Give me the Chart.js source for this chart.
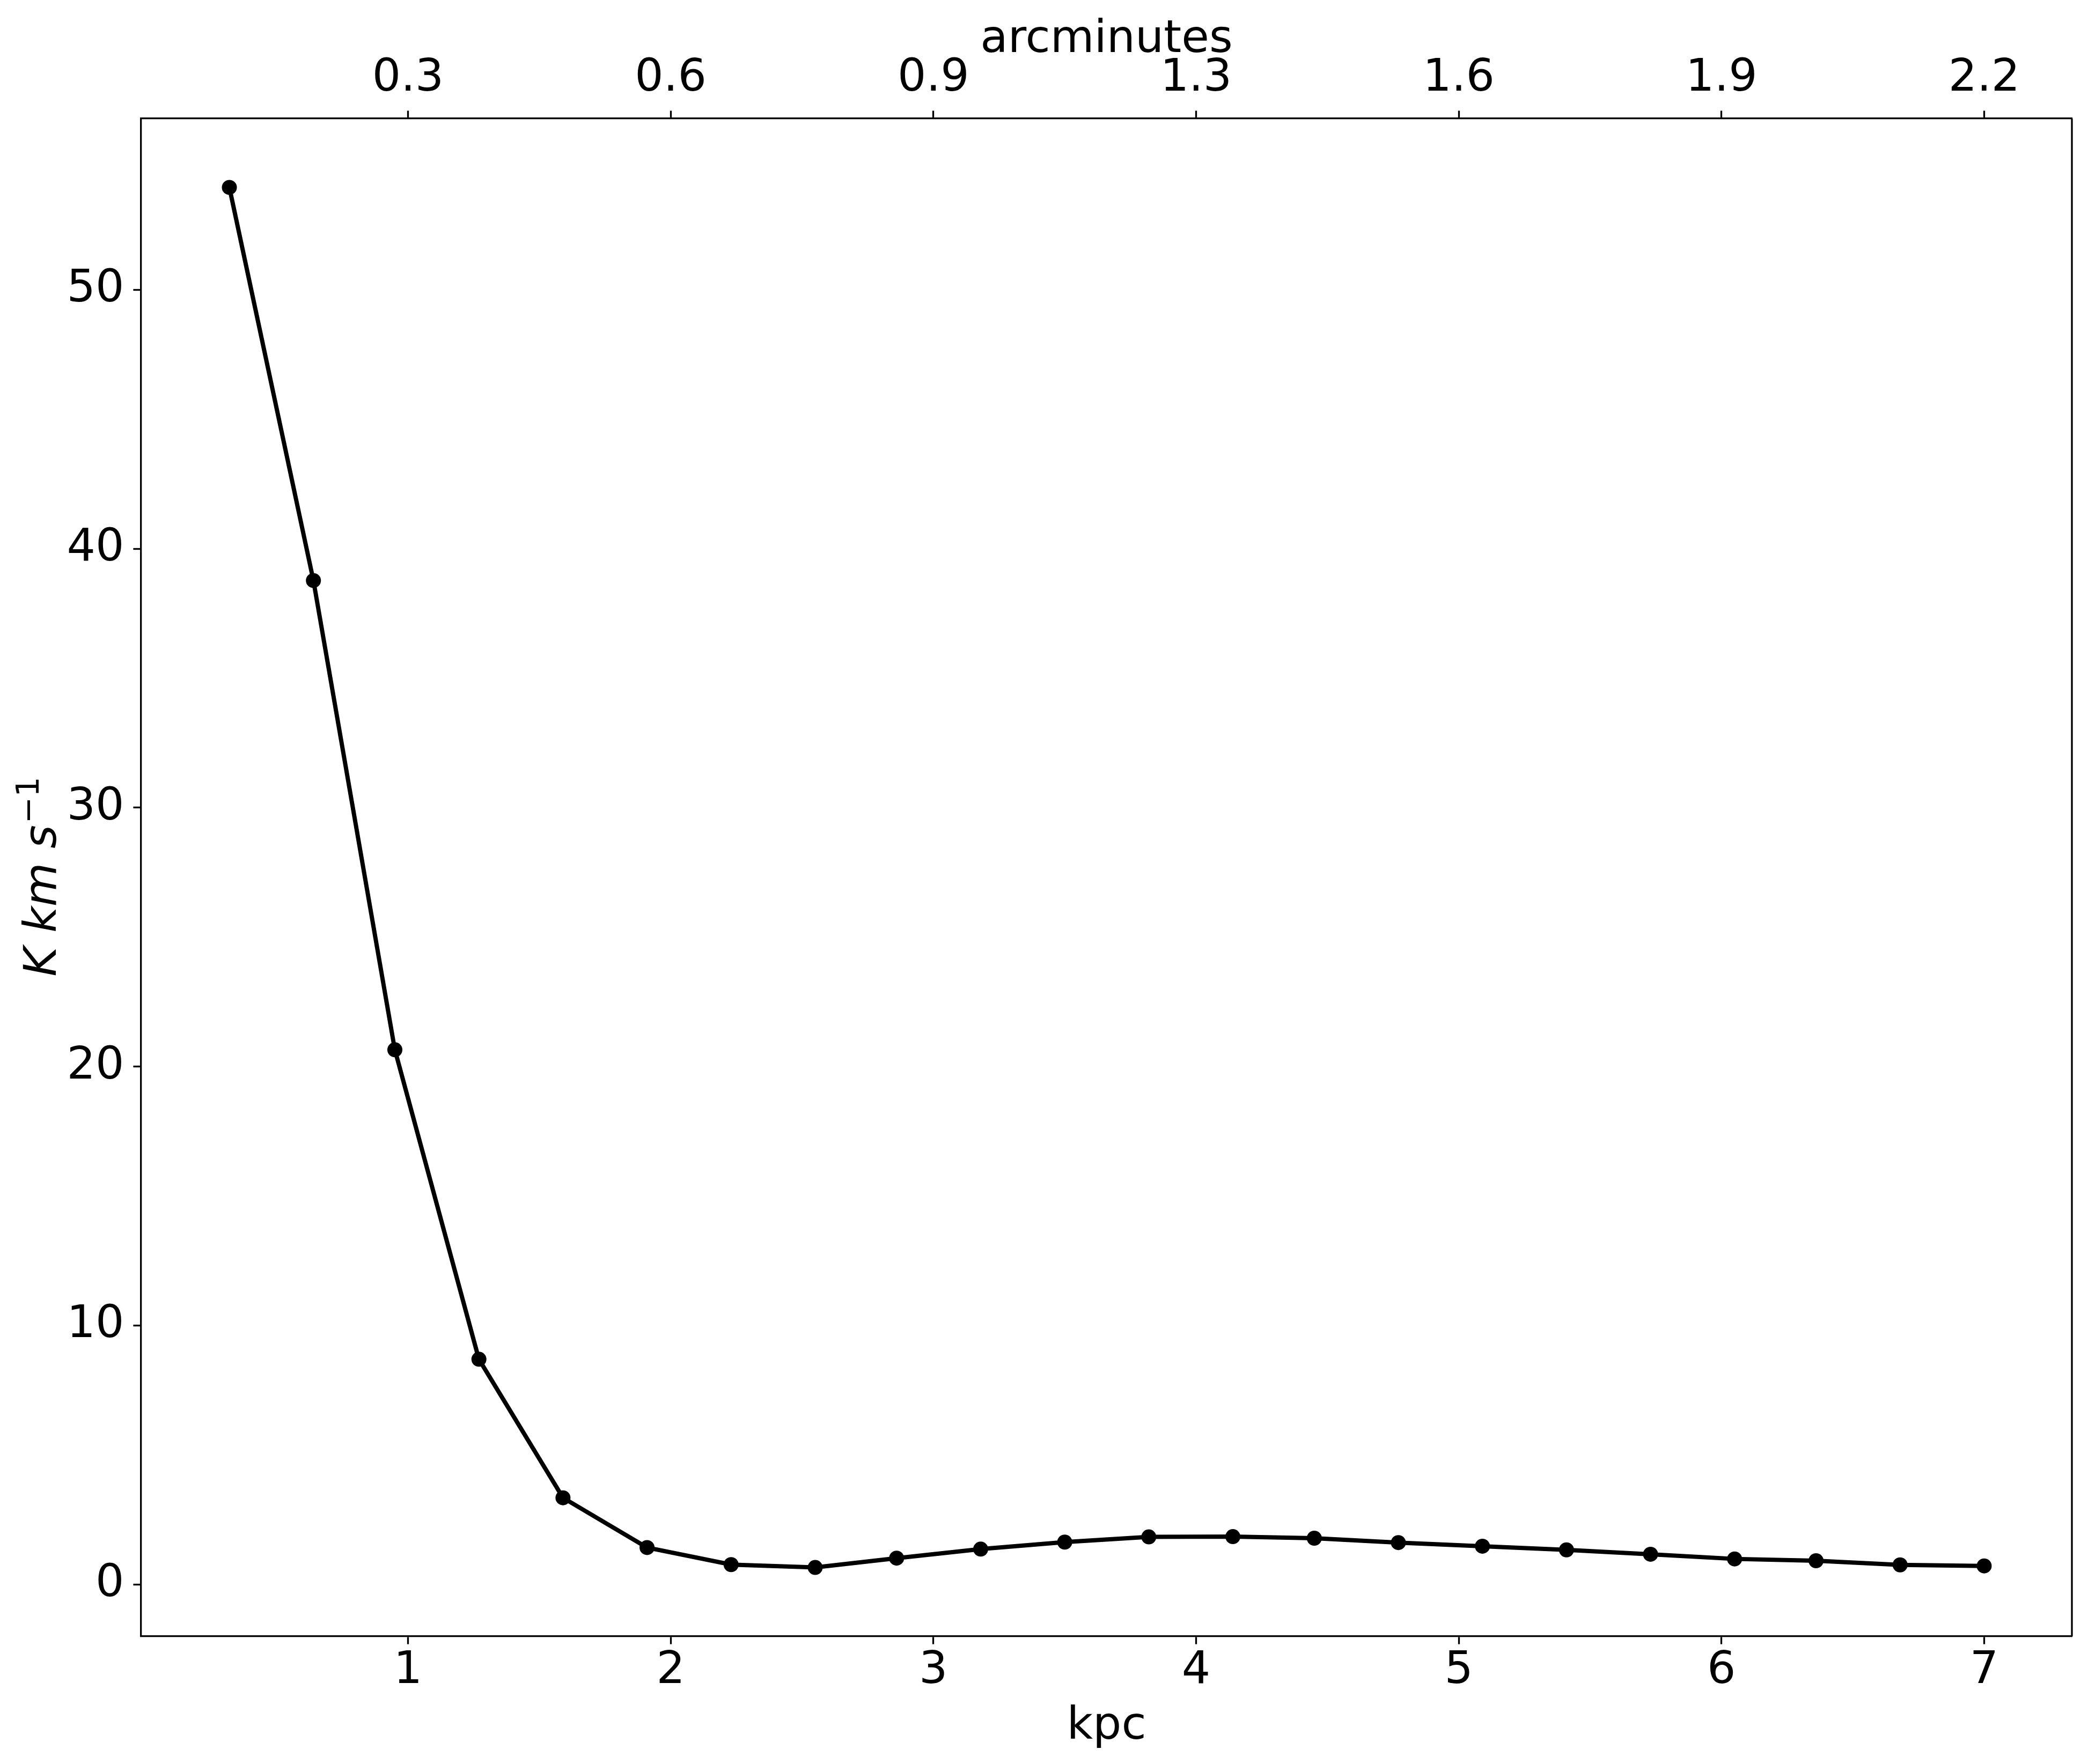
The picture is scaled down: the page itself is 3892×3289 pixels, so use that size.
<!DOCTYPE html>
<html>
<head>
    <title>Radial profile</title>
    <script src="https://cdn.jsdelivr.net/npm/chart.js"></script>
    <style>
        body { margin: 0; background: #fff; }
        canvas { display: block; }
    </style>
</head>
<body>
    <canvas id="profileChart" width="3892" height="3289"></canvas>

    <script>
        // Data
        const kpc = [0.32, 0.64, 0.95, 1.27, 1.59, 1.91, 2.23, 2.55, 2.86, 3.18, 3.50,
                     3.82, 4.14, 4.45, 4.77, 5.09, 5.41, 5.73, 6.05, 6.36, 6.68, 7.00];
        const intensity = [53.95, 38.77, 20.65, 8.70, 3.35, 1.43, 0.77, 0.66, 1.02, 1.37, 1.64,
                           1.84, 1.85, 1.79, 1.62, 1.48, 1.34, 1.17, 0.99, 0.92, 0.76, 0.72];

        // Tick positions and labels
        const kpcTicks = [1, 2, 3, 4, 5, 6, 7];
        const arcminLabels = ['0.3', '0.6', '0.9', '1.3', '1.6', '1.9', '2.2'];
        const yTicks = [0, 10, 20, 30, 40, 50];

        const FONT = 'DejaVu Sans';
        const FS = 84;

        const tickFont = { family: FONT, size: FS };
        const gridStyle = {
            drawOnChartArea: false,
            tickLength: 14.6,
            tickWidth: 3.3,
            tickColor: '#000'
        };
        const borderStyle = { display: true, color: '#000', width: 3.3 };

        // Right spine and the axis titles (y title needs a superscript)
        const framePlugin = {
            id: 'frame',
            afterDraw(chart) {
                const { ctx, chartArea: a } = chart;
                ctx.save();
                ctx.strokeStyle = '#000';
                ctx.lineWidth = 3.3;
                ctx.beginPath();
                ctx.moveTo(a.right, a.top);
                ctx.lineTo(a.right, a.bottom);
                ctx.stroke();

                ctx.fillStyle = '#000';
                ctx.textBaseline = 'alphabetic';
                ctx.textAlign = 'center';
                ctx.font = `${FS}px "${FONT}"`;
                const cx = (a.left + a.right) / 2;
                ctx.fillText('kpc', cx, a.bottom + 191);
                ctx.fillText('arcminutes', cx, a.top - 124);

                // y title: K km s^-1
                const main = 'K km s';
                const sup = '\u22121';
                ctx.translate(104, (a.top + a.bottom) / 2);
                ctx.rotate(-Math.PI / 2);
                ctx.textAlign = 'left';
                ctx.font = `italic ${FS}px "${FONT}"`;
                const w1 = ctx.measureText(main).width;
                ctx.font = `${Math.round(FS * 0.7)}px "${FONT}"`;
                const w2 = ctx.measureText(sup).width;
                const x0 = -(w1 + w2) / 2;
                ctx.font = `italic ${FS}px "${FONT}"`;
                ctx.fillText(main, x0, 0);
                ctx.font = `${Math.round(FS * 0.7)}px "${FONT}"`;
                ctx.fillText(sup, x0 + w1 + 3, -32);
                ctx.restore();
            }
        };

        new Chart(document.getElementById('profileChart'), {
            type: 'line',
            data: {
                datasets: [{
                    data: kpc.map((x, i) => ({ x: x, y: intensity[i] })),
                    borderColor: '#000',
                    backgroundColor: '#000',
                    borderWidth: 8,
                    pointRadius: 14,
                    pointBorderWidth: 0,
                    pointBackgroundColor: '#000',
                    tension: 0
                }]
            },
            options: {
                responsive: false,
                animation: false,
                devicePixelRatio: 1,
                layout: { autoPadding: false, padding: { left: 0, right: 30, top: 0, bottom: 0 } },
                plugins: {
                    legend: { display: false },
                    tooltip: { enabled: false }
                },
                scales: {
                    x: {
                        type: 'linear',
                        position: 'bottom',
                        min: -0.016,
                        max: 7.334,
                        afterBuildTicks: s => { s.ticks = kpcTicks.map(v => ({ value: v })); },
                        afterFit: s => { s.height = 238; },
                        grid: gridStyle,
                        border: borderStyle,
                        ticks: {
                            color: '#000', font: tickFont, padding: 0,
                            maxRotation: 0, autoSkip: false,
                            callback: v => String(v)
                        }
                    },
                    x2: {
                        type: 'linear',
                        position: 'top',
                        min: -0.016,
                        max: 7.334,
                        afterBuildTicks: s => { s.ticks = kpcTicks.map(v => ({ value: v })); },
                        afterFit: s => { s.height = 221; },
                        grid: gridStyle,
                        border: borderStyle,
                        ticks: {
                            color: '#000', font: tickFont, padding: 9,
                            maxRotation: 0, autoSkip: false,
                            callback: (v, i) => arcminLabels[i]
                        }
                    },
                    y: {
                        type: 'linear',
                        position: 'left',
                        min: -2.0,
                        max: 56.61,
                        afterBuildTicks: s => { s.ticks = yTicks.map(v => ({ value: v })); },
                        afterFit: s => { s.width = 263; },
                        grid: gridStyle,
                        border: borderStyle,
                        ticks: {
                            color: '#000', font: tickFont, padding: 17,
                            autoSkip: false,
                            callback: v => String(v)
                        }
                    }
                }
            },
            plugins: [framePlugin]
        });
    </script>
</body>
</html>
